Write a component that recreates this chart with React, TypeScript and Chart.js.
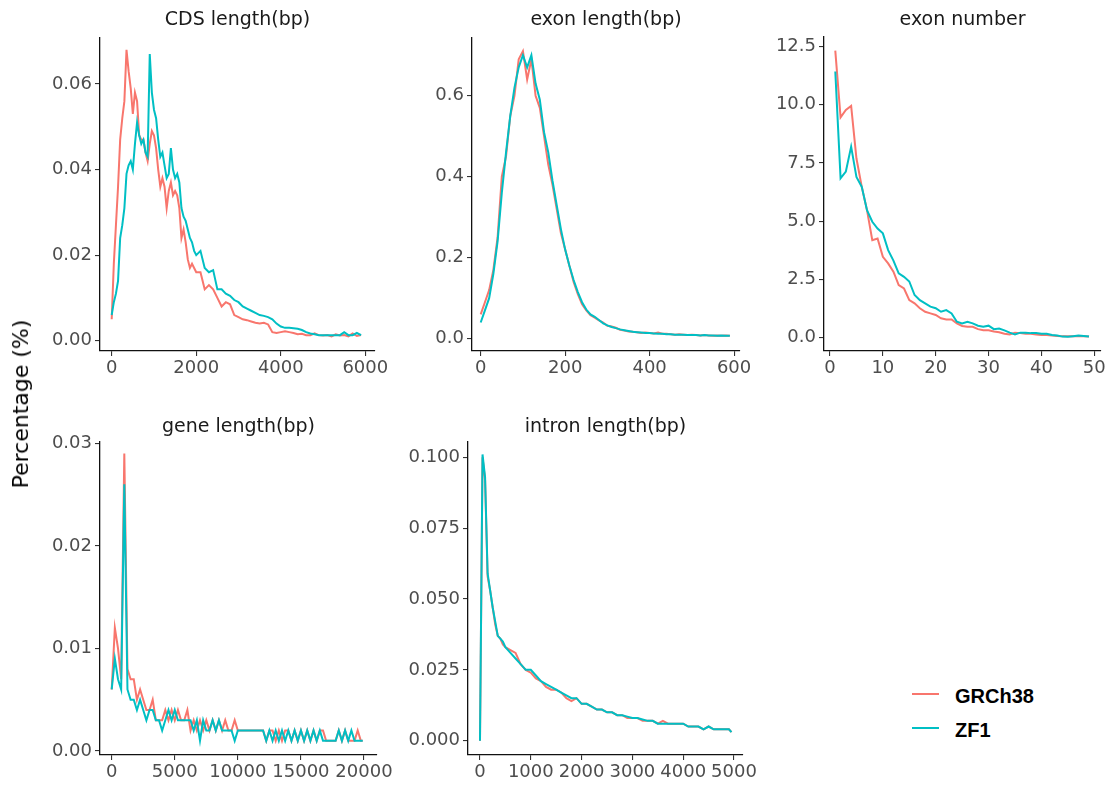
import React, { useEffect, useRef } from "react";
import { Chart, registerables } from "chart.js";

Chart.register(...registerables);

const RED = "#F8766D";
const TEAL = "#00BFC4";
const FONT = "'DejaVu Sans', sans-serif";

// ---------- CDS length(bp) ----------
const cdsX = [
  0, 50, 100, 150, 200, 250, 300, 350, 400, 450,
  500, 550, 600, 650, 700, 750, 800, 850, 900, 950,
  1000, 1050, 1100, 1150, 1200, 1250, 1300, 1350, 1400, 1450,
  1500, 1550, 1600, 1650, 1700, 1750, 1800, 1850, 1900, 1950,
  2000,
  2100, 2200, 2300, 2400, 2500, 2600, 2700, 2800, 2900, 3000,
  3100, 3200, 3300, 3400, 3500, 3600, 3700, 3800, 3900, 4000,
  4100, 4200, 4300, 4400, 4500, 4600, 4700, 4800, 4900, 5000,
  5100, 5200, 5300, 5400, 5500, 5600, 5700, 5800, 5900,
];
const cdsGRCh38 = [
  0.005, 0.018, 0.027, 0.036, 0.047, 0.052, 0.056, 0.068, 0.063, 0.059,
  0.053, 0.058, 0.056, 0.048, 0.047, 0.047, 0.044, 0.042, 0.046, 0.049,
  0.048, 0.045, 0.040, 0.036, 0.038, 0.036, 0.031, 0.035, 0.037, 0.034,
  0.035, 0.034, 0.031, 0.024, 0.026, 0.023, 0.019, 0.017, 0.018, 0.017,
  0.016,
  0.016, 0.012, 0.013, 0.012, 0.010, 0.008, 0.009, 0.0085, 0.006, 0.0055,
  0.005, 0.0048, 0.0045, 0.0042, 0.004, 0.0042, 0.0038, 0.002, 0.0018, 0.002,
  0.0022, 0.002, 0.0018, 0.0015, 0.0016, 0.0013, 0.0013, 0.0017, 0.0013, 0.0012,
  0.0013, 0.001, 0.0015, 0.0012, 0.0013, 0.001, 0.0017, 0.0011, 0.0013,
];
const cdsZF1 = [
  0.006, 0.009, 0.011, 0.014, 0.024, 0.027, 0.031, 0.039, 0.041, 0.042,
  0.040, 0.046, 0.051, 0.048, 0.046, 0.047, 0.044, 0.043, 0.067, 0.058,
  0.054, 0.052, 0.047, 0.043, 0.044, 0.041, 0.038, 0.039, 0.045, 0.040,
  0.038, 0.039, 0.037, 0.031, 0.029, 0.028, 0.026, 0.024, 0.023, 0.021,
  0.020,
  0.021, 0.017, 0.016, 0.0165, 0.012, 0.012, 0.011, 0.0105, 0.0095, 0.009,
  0.008, 0.0075, 0.007, 0.0065, 0.006, 0.0058, 0.0055, 0.005, 0.004, 0.0033,
  0.003, 0.003, 0.0029, 0.0028, 0.0025, 0.002, 0.0017, 0.0015, 0.0013, 0.0013,
  0.0013, 0.0013, 0.0013, 0.0013, 0.002, 0.0013, 0.0013, 0.0018, 0.0013,
];
const cdsXTicks = [0, 2000, 4000, 6000];
const cdsXLabels = ["0", "2000", "4000", "6000"];
const cdsYTicks = [0, 0.02, 0.04, 0.06];
const cdsYLabels = ["0.00", "0.02", "0.04", "0.06"];

// ---------- exon length(bp) ----------
const exonLenX = [
  0, 10, 20, 30, 40, 50, 60, 70, 80, 90,
  100, 110, 120, 130, 140, 150, 160, 170, 180, 190,
  200, 210, 220, 230, 240, 250, 260, 270, 280, 290,
  300, 310, 320, 330, 340, 350, 360, 370, 380, 390,
  400, 410, 420, 430, 440, 450, 460, 470, 480, 490,
  500, 510, 520, 530, 540, 550, 560, 570, 580, 590,
];
const exonLenGRCh38 = [
  0.06, 0.09, 0.12, 0.17, 0.25, 0.40, 0.45, 0.55, 0.60, 0.69,
  0.71, 0.64, 0.69, 0.60, 0.57, 0.50, 0.43, 0.38, 0.32, 0.26,
  0.22, 0.18, 0.14, 0.11, 0.085, 0.07, 0.058, 0.052, 0.045, 0.04,
  0.032, 0.03, 0.027, 0.022, 0.02, 0.018, 0.017, 0.016, 0.014, 0.015,
  0.014, 0.013, 0.015, 0.012, 0.012, 0.011, 0.01, 0.011, 0.01, 0.009,
  0.01, 0.009, 0.008, 0.009, 0.008, 0.007, 0.008, 0.007, 0.008, 0.007,
];
const exonLenZF1 = [
  0.04, 0.07, 0.10, 0.16, 0.24, 0.36, 0.46, 0.55, 0.62, 0.67,
  0.70, 0.67, 0.70, 0.63, 0.59, 0.51, 0.46, 0.39, 0.33, 0.27,
  0.22, 0.18, 0.145, 0.115, 0.09, 0.072, 0.06, 0.054, 0.046, 0.038,
  0.033, 0.029, 0.026, 0.023, 0.021, 0.019, 0.017, 0.016, 0.015, 0.014,
  0.014, 0.013, 0.012, 0.012, 0.011, 0.011, 0.01, 0.01, 0.01, 0.009,
  0.009, 0.009, 0.008, 0.009, 0.008, 0.008, 0.007, 0.008, 0.007, 0.007,
];
const exonLenXTicks = [0, 200, 400, 600];
const exonLenXLabels = ["0", "200", "400", "600"];
const exonLenYTicks = [0, 0.2, 0.4, 0.6];
const exonLenYLabels = ["0.0", "0.2", "0.4", "0.6"];

// ---------- exon number ----------
const exonNumX = [
  1, 2, 3, 4, 5, 6, 7, 8, 9, 10,
  11, 12, 13, 14, 15, 16, 17, 18, 19, 20,
  21, 22, 23, 24, 25, 26, 27, 28, 29, 30,
  31, 32, 33, 34, 35, 36, 37, 38, 39, 40,
  41, 42, 43, 44, 45, 46, 47, 48, 49,
];
const exonNumGRCh38 = [
  12.33, 9.46, 9.78, 9.95, 7.7, 6.48, 5.47, 4.18, 4.25, 3.46,
  3.18, 2.82, 2.25, 2.1, 1.6, 1.46, 1.25, 1.1, 1.03, 0.96,
  0.82, 0.77, 0.77, 0.6, 0.49, 0.45, 0.45, 0.35, 0.3, 0.3,
  0.25, 0.22, 0.15, 0.12, 0.2, 0.18, 0.15, 0.15, 0.12, 0.1,
  0.1, 0.08, 0.06, 0.05, 0.05, 0.05, 0.06, 0.05, 0.03,
];
const exonNumZF1 = [
  11.43, 6.84, 7.13, 8.2, 6.9, 6.48, 5.47, 4.97, 4.68, 4.47,
  3.75, 3.3, 2.75, 2.6, 2.4, 1.82, 1.6, 1.46, 1.32, 1.25,
  1.1, 1.17, 1.03, 0.67, 0.6, 0.67, 0.6, 0.5, 0.45, 0.5,
  0.35, 0.38, 0.3, 0.2, 0.12, 0.2, 0.2, 0.18, 0.18, 0.15,
  0.15, 0.1, 0.08, 0.03, 0.02, 0.05, 0.08, 0.06, 0.03,
];
const exonNumXTicks = [0, 10, 20, 30, 40, 50];
const exonNumXLabels = ["0", "10", "20", "30", "40", "50"];
const exonNumYTicks = [0, 2.5, 5, 7.5, 10, 12.5];
const exonNumYLabels = ["0.0", "2.5", "5.0", "7.5", "10.0", "12.5"];

// ---------- gene length(bp) ----------
const geneX = [
  0, 250, 500, 750, 1000, 1250, 1500, 1750, 2000, 2250,
  2500, 2750, 3000, 3250, 3500, 3750, 4000, 4250, 4500, 4750,
  5000, 5250, 5500, 5750, 6000, 6250, 6500, 6750, 7000, 7250,
  7500, 7750, 8000, 8250, 8500, 8750, 9000, 9250, 9500, 9750,
  10000, 10250, 10500, 10750, 11000, 11250, 11500, 11750, 12000, 12250,
  12500, 12750, 13000, 13250, 13500, 13750, 14000, 14250, 14500, 14750,
  15000, 15250, 15500, 15750, 16000, 16250, 16500, 16750, 17000, 17250,
  17500, 17750, 18000, 18250, 18500, 18750, 19000, 19250, 19500, 19750,
  19900,
];
const geneGRCh38 = [
  0.006, 0.012, 0.010, 0.007, 0.029, 0.008, 0.007, 0.007, 0.005, 0.006,
  0.005, 0.004, 0.004, 0.005, 0.003, 0.003, 0.003, 0.004, 0.003, 0.004,
  0.003, 0.004, 0.003, 0.003, 0.004, 0.002, 0.003, 0.002, 0.003, 0.002,
  0.003, 0.002, 0.003, 0.002, 0.003, 0.002, 0.003, 0.002, 0.002, 0.003,
  0.002, 0.002, 0.002, 0.002, 0.002, 0.002, 0.002, 0.002, 0.002, 0.001,
  0.002, 0.002, 0.001, 0.002, 0.001, 0.002, 0.002, 0.001, 0.002, 0.001,
  0.002, 0.001, 0.002, 0.001, 0.002, 0.001, 0.002, 0.002, 0.001, 0.001,
  0.001, 0.001, 0.002, 0.001, 0.002, 0.001, 0.001, 0.001, 0.002, 0.001,
  0.001,
];
const geneZF1 = [
  0.006, 0.009, 0.007, 0.006, 0.026, 0.006, 0.005, 0.005, 0.004, 0.005,
  0.004, 0.003, 0.004, 0.004, 0.003, 0.003, 0.002, 0.003, 0.004, 0.003,
  0.004, 0.003, 0.003, 0.003, 0.003, 0.003, 0.002, 0.003, 0.001, 0.003,
  0.002, 0.002, 0.003, 0.002, 0.003, 0.002, 0.002, 0.002, 0.002, 0.001,
  0.002, 0.002, 0.002, 0.002, 0.002, 0.002, 0.002, 0.002, 0.002, 0.001,
  0.002, 0.001, 0.002, 0.001, 0.002, 0.001, 0.002, 0.001, 0.002, 0.001,
  0.002, 0.001, 0.002, 0.001, 0.002, 0.001, 0.002, 0.001, 0.001, 0.001,
  0.001, 0.001, 0.002, 0.001, 0.002, 0.001, 0.002, 0.001, 0.001, 0.001,
  0.001,
];
const geneXTicks = [0, 5000, 10000, 15000, 20000];
const geneXLabels = ["0", "5000", "10000", "15000", "20000"];
const geneYTicks = [0, 0.01, 0.02, 0.03];
const geneYLabels = ["0.00", "0.01", "0.02", "0.03"];

// ---------- intron length(bp) ----------
const intronX = [
  0, 50, 100, 150, 200, 250, 300, 350, 400, 450,
  500, 600, 700, 800, 900, 1000, 1100, 1200, 1300, 1400,
  1500, 1600, 1700, 1800, 1900, 2000, 2100, 2200, 2300, 2400,
  2500, 2600, 2700, 2800, 2900, 3000, 3100, 3200, 3300, 3400,
  3500, 3600, 3700, 3800, 3900, 4000, 4100, 4200, 4300, 4400,
  4500, 4600, 4700, 4800, 4900, 4950,
];
const intronGRCh38 = [
  0.0, 0.100, 0.092, 0.058, 0.053, 0.047, 0.041, 0.037, 0.036, 0.034,
  0.033, 0.032, 0.031, 0.027, 0.025, 0.024, 0.022, 0.021, 0.019, 0.018,
  0.018, 0.017, 0.015, 0.014, 0.015, 0.013, 0.013, 0.012, 0.011, 0.011,
  0.010, 0.010, 0.009, 0.009, 0.008, 0.008, 0.008, 0.007, 0.007, 0.007,
  0.006, 0.007, 0.006, 0.006, 0.006, 0.006, 0.005, 0.005, 0.005, 0.004,
  0.005, 0.004, 0.004, 0.004, 0.004, 0.003,
];
const intronZF1 = [
  0.0, 0.101, 0.093, 0.059, 0.053, 0.047, 0.042, 0.037, 0.036, 0.035,
  0.033, 0.031, 0.029, 0.027, 0.025, 0.025, 0.023, 0.021, 0.020, 0.019,
  0.018, 0.017, 0.016, 0.015, 0.015, 0.013, 0.013, 0.012, 0.011, 0.011,
  0.010, 0.010, 0.009, 0.009, 0.0085, 0.008, 0.008, 0.0075, 0.007, 0.007,
  0.006, 0.006, 0.006, 0.006, 0.006, 0.006, 0.005, 0.005, 0.005, 0.004,
  0.005, 0.004, 0.004, 0.004, 0.004, 0.003,
];
const intronXTicks = [0, 1000, 2000, 3000, 4000, 5000];
const intronXLabels = ["0", "1000", "2000", "3000", "4000", "5000"];
const intronYTicks = [0, 0.025, 0.05, 0.075, 0.1];
const intronYLabels = ["0.000", "0.025", "0.050", "0.075", "0.100"];

const seriesNames = ["GRCh38", "ZF1"];

// ---------- layout ----------
const YW = 72; // y-axis box width
const XH = 36; // x-axis box height
const PT = 16; // top padding
const PR = 34; // right padding

type PanelSpec = {
  title: string;
  x: number[];
  a: number[];
  b: number[];
  xTicks: number[];
  xLabels: string[];
  yTicks: number[];
  yLabels: string[];
  xRange: [number, number];
  yRange: [number, number];
  area: [number, number, number, number];
  titleTop: number;
};

const panels: PanelSpec[] = [
  {
    title: "CDS length(bp)", x: cdsX, a: cdsGRCh38, b: cdsZF1,
    xTicks: cdsXTicks, xLabels: cdsXLabels, yTicks: cdsYTicks, yLabels: cdsYLabels,
    xRange: [-277, 6229], yRange: [-0.00241, 0.07076],
    area: [100, 38, 375, 351], titleTop: 9,
  },
  {
    title: "exon length(bp)", x: exonLenX, a: exonLenGRCh38, b: exonLenZF1,
    xTicks: exonLenXTicks, xLabels: exonLenXLabels, yTicks: exonLenYTicks, yLabels: exonLenYLabels,
    xRange: [-20.6, 614], yRange: [-0.0304, 0.7425],
    area: [472, 38, 740, 351], titleTop: 9,
  },
  {
    title: "exon number", x: exonNumX, a: exonNumGRCh38, b: exonNumZF1,
    xTicks: exonNumXTicks, xLabels: exonNumXLabels, yTicks: exonNumYTicks, yLabels: exonNumYLabels,
    xRange: [-1.135, 51.27], yRange: [-0.589, 12.917],
    area: [824, 37, 1101, 351], titleTop: 9,
  },
  {
    title: "gene length(bp)", x: geneX, a: geneGRCh38, b: geneZF1,
    xTicks: geneXTicks, xLabels: geneXLabels, yTicks: geneYTicks, yLabels: geneYLabels,
    xRange: [-927, 21031], yRange: [-0.00039, 0.03013],
    area: [100, 442, 377, 755], titleTop: 416,
  },
  {
    title: "intron length(bp)", x: intronX, a: intronGRCh38, b: intronZF1,
    xTicks: intronXTicks, xLabels: intronXLabels, yTicks: intronYTicks, yLabels: intronYLabels,
    xRange: [-236, 5177], yRange: [-0.00505, 0.1054],
    area: [468, 442, 743, 755], titleTop: 416,
  },
];

function Panel({ spec }: { spec: PanelSpec }) {
  const ref = useRef<HTMLCanvasElement>(null);
  const [l, t, r, b] = spec.area;
  const w = r - l + YW + PR;
  const h = b - t + PT + XH;

  useEffect(() => {
    const axisCommon = {
      grid: {
        display: true,
        drawOnChartArea: false,
        drawTicks: true,
        tickLength: 5,
        color: "#333333",
        lineWidth: 1.1,
      },
      border: { display: true, color: "#111111", width: 1.3 },
    };
    const chart = new Chart(ref.current as HTMLCanvasElement, {
      type: "line",
      data: {
        datasets: [
          {
            label: seriesNames[0],
            data: spec.x.map((x, i) => ({ x, y: spec.a[i] })),
            borderColor: RED,
            backgroundColor: RED,
            borderWidth: 2,
            pointRadius: 0,
            tension: 0,
            order: 2,
          },
          {
            label: seriesNames[1],
            data: spec.x.map((x, i) => ({ x, y: spec.b[i] })),
            borderColor: TEAL,
            backgroundColor: TEAL,
            borderWidth: 2,
            pointRadius: 0,
            tension: 0,
            order: 1,
          },
        ],
      },
      options: {
        responsive: false,
        animation: false,
        devicePixelRatio: 1,
        layout: { padding: { left: 0, top: PT, right: PR, bottom: 0 } },
        plugins: { legend: { display: false }, tooltip: { enabled: false }, title: { display: false } },
        scales: {
          x: {
            type: "linear",
            min: spec.xRange[0],
            max: spec.xRange[1],
            afterFit: (s: any) => { s.height = XH; },
            afterBuildTicks: (s: any) => { s.ticks = spec.xTicks.map((v) => ({ value: v })); },
            ticks: {
              autoSkip: false,
              maxRotation: 0,
              minRotation: 0,
              padding: 2,
              color: "#4D4D4D",
              font: { family: FONT, size: 18 },
              callback: (v: any) => spec.xLabels[spec.xTicks.indexOf(Number(v))] ?? "",
            },
            ...axisCommon,
          },
          y: {
            type: "linear",
            min: spec.yRange[0],
            max: spec.yRange[1],
            afterFit: (s: any) => { s.width = YW; },
            afterBuildTicks: (s: any) => { s.ticks = spec.yTicks.map((v) => ({ value: v })); },
            ticks: {
              autoSkip: false,
              padding: 3,
              color: "#4D4D4D",
              font: { family: FONT, size: 18 },
              callback: (v: any) => spec.yLabels[spec.yTicks.indexOf(Number(v))] ?? "",
            },
            ...axisCommon,
          },
        },
      } as any,
    });
    return () => chart.destroy();
  }, [spec]);

  return (
    <>
      <canvas
        ref={ref}
        width={w}
        height={h}
        style={{ position: "absolute", left: l - YW, top: t - PT, width: w, height: h }}
      />
      <div
        style={{
          position: "absolute",
          left: l,
          width: r - l,
          top: spec.titleTop,
          textAlign: "center",
          fontFamily: FONT,
          fontSize: 19,
          lineHeight: "19px",
          color: "#1A1A1A",
          whiteSpace: "nowrap",
        }}
      >
        {spec.title}
      </div>
    </>
  );
}

export default function App() {
  return (
    <div
      style={{
        position: "absolute",
        left: 0,
        top: 0,
        width: 1113,
        height: 798,
        overflow: "hidden",
        background: "#FFFFFF",
      }}
    >
      {panels.map((p) => (
        <Panel key={p.title} spec={p} />
      ))}
      <div
        style={{
          position: "absolute",
          left: 21,
          top: 404,
          transform: "translate(-50%, -50%) rotate(-90deg)",
          fontFamily: FONT,
          fontSize: 22,
          lineHeight: "22px",
          color: "#000000",
          whiteSpace: "nowrap",
        }}
      >
        Percentage (%)
      </div>
      {[RED, TEAL].map((c, i) => (
        <React.Fragment key={seriesNames[i]}>
          <div
            style={{
              position: "absolute",
              left: 912,
              top: 693 + i * 34,
              width: 27,
              height: 2,
              background: c,
            }}
          />
          <div
            style={{
              position: "absolute",
              left: 955,
              top: 684 + i * 34,
              fontFamily: "'Liberation Sans', Arial, sans-serif",
              fontWeight: "bold",
              fontSize: 20,
              lineHeight: "24px",
              color: "#000000",
              whiteSpace: "nowrap",
            }}
          >
            {seriesNames[i]}
          </div>
        </React.Fragment>
      ))}
    </div>
  );
}
